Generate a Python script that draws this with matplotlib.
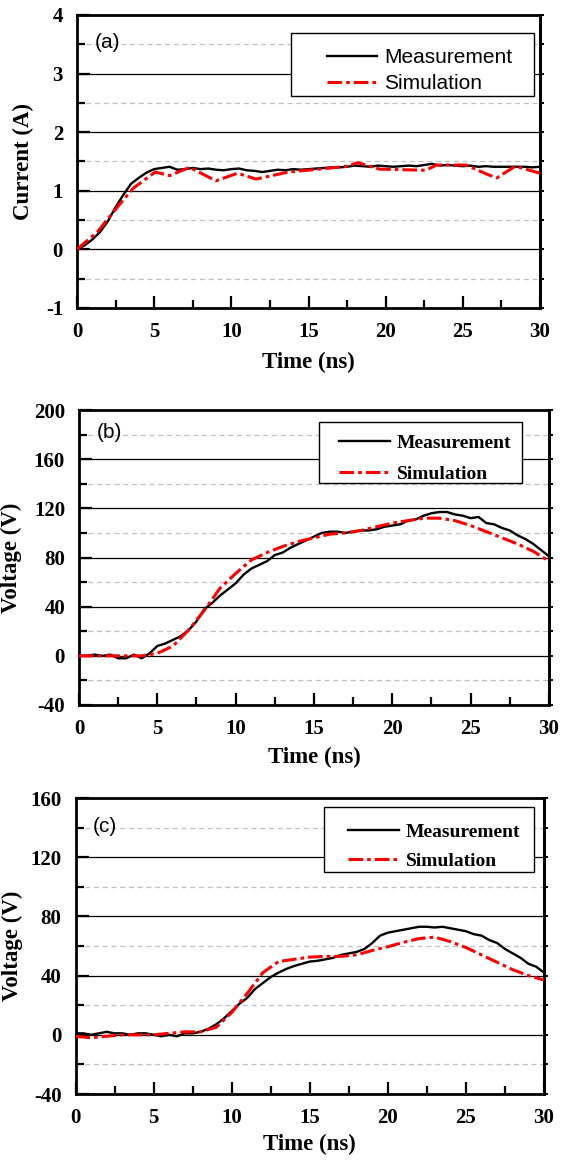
import matplotlib
matplotlib.use("Agg")
import matplotlib.pyplot as plt
from matplotlib.patches import Rectangle
from matplotlib.ticker import MultipleLocator
import numpy as np

plt.rcParams['font.family'] = 'serif'
plt.rcParams['font.serif'] = ['Liberation Serif', 'DejaVu Serif']
plt.rcParams['axes.unicode_minus'] = False

# ---- data ----
t_meas = np.arange(0, 30.01, 0.5)

cur_meas = [0.0, 0.07, 0.17, 0.3, 0.48, 0.72, 0.93, 1.12, 1.22, 1.31, 1.37, 1.39, 1.41,
            1.36, 1.37, 1.39, 1.37, 1.38, 1.36, 1.35, 1.37, 1.38, 1.35, 1.34, 1.32, 1.34,
            1.36, 1.35, 1.37, 1.36, 1.37, 1.38, 1.39, 1.40, 1.40, 1.41, 1.43, 1.42, 1.41,
            1.43, 1.42, 1.41, 1.42, 1.43, 1.42, 1.44, 1.46, 1.43, 1.44, 1.43, 1.42, 1.43,
            1.41, 1.42, 1.41, 1.41, 1.41, 1.41, 1.41, 1.40, 1.41]
t_cur_sim = [0, 1.33, 2.7, 3.67, 5.07, 6.0, 7.3, 9.0, 10.4, 11.6, 13.7, 16.1, 17.5, 18.2,
             19.6, 22.6, 23.3, 25.2, 26.6, 27.2, 28.4, 30]
cur_sim = [0, 0.3, 0.75, 1.05, 1.32, 1.26, 1.4, 1.17, 1.3, 1.2, 1.32, 1.38, 1.42, 1.48,
           1.37, 1.35, 1.44, 1.44, 1.28, 1.22, 1.42, 1.3]

vb_meas = [0, 0, 1, 0, 1, -2, -2, 1, -2, 2, 8, 10, 13, 16, 21, 28, 38, 43, 49, 54, 59,
           66, 71, 74, 77, 82, 84, 88, 91, 94, 97, 100, 101, 101, 100, 101, 102, 102, 103,
           105, 106, 107, 110, 111, 114, 116, 117, 117, 115, 114, 112, 113, 108, 107, 104,
           102, 98, 95, 91, 86, 81]
t_sim = np.arange(0, 31, 1)
vb_sim = [0, 0, 0, 0, 0, 2, 8, 21, 37, 55, 67, 78, 84, 89, 93, 96, 99, 100, 102, 105,
          108, 110, 112, 112, 110, 106, 101, 96, 91, 85, 77]

vc_meas = [1, 1, 0, 1, 2, 1, 1, 0, 1, 1, 0, -1, 0, -1, 1, 1, 2, 4, 7, 11, 16, 21, 25,
           31, 35, 39, 42, 44.5, 46.5, 48, 49.5, 50, 51, 52, 54, 55, 56, 58, 62, 67, 69,
           70, 71, 72, 73, 73, 72.5, 73, 72, 71, 70, 68, 67, 64, 62, 58, 55, 52, 48, 46, 42]
vc_sim = [-1, -2, -1, 0, 0, 0, 1, 2, 2, 5, 15, 28, 42, 49.5, 51, 52.5, 53, 53, 54, 57,
          59.5, 62.5, 65, 66, 63, 59, 54, 49, 44, 40, 37]

panel_tags = ['(a)', '(b)', '(c)']
y_labels = ['Current (A)', 'Voltage (V)', 'Voltage (V)']
y_limits = [(-1, 4), (-40, 200), (-40, 160)]
y_major = [1, 40, 40]
legend_labels = ['Measurement', 'Simulation']

# ---- layout in pixels (figure is 567 x 1161) ----
W, H = 567.0, 1161.0
axes_px = [(77, 540, 15, 308), (79, 549, 410, 705), (75.5, 544, 798, 1094)]
legend_px = [(291, 534, 33, 96), (319, 522, 422, 483), (324, 534, 807, 872)]
handle_px = [(327, 48), (339, 434), (348, 823)]
legend_spacing = [0.34, 0.71, 0.61]
tag_px = [(95, 42), (97, 432), (93, 826)]
ylab_x = [-0.093, -0.122, -0.111]
xlab_y = [-0.150, -0.142, -0.135]

series = [
    (t_meas, cur_meas, t_cur_sim, cur_sim),
    (t_meas, vb_meas, t_sim, vb_sim),
    (t_meas, vc_meas, t_sim, vc_sim),
]

fig = plt.figure(figsize=(W / 100, H / 100), dpi=100)
sans = {'family': 'Liberation Sans', 'size': 15}
bold_serif = {'family': 'Liberation Serif', 'size': 14, 'weight': 'bold'}

for i in range(3):
    x0, x1, y0, y1 = axes_px[i]
    ax = fig.add_axes([x0 / W, 1 - y1 / H, (x1 - x0) / W, (y1 - y0) / H])
    tm, ym, ts, ys = series[i]

    l1, = ax.plot(tm, ym, color='black', lw=1.7, zorder=3)
    l2, = ax.plot(ts, ys, color='red', lw=2.2, zorder=3, dashes=(4.8, 1.3, 1.2, 1.3))

    ax.set_xlim(0, 30)
    ax.set_ylim(*y_limits[i])
    ax.xaxis.set_major_locator(MultipleLocator(5))
    ax.xaxis.set_minor_locator(MultipleLocator(2.5))
    ax.yaxis.set_major_locator(MultipleLocator(y_major[i]))
    ax.yaxis.set_minor_locator(MultipleLocator(y_major[i] / 2))

    ax.grid(which='major', axis='y', color='black', lw=0.9, ls='-')
    ax.grid(which='minor', axis='y', color='#c0c0c0', lw=0.9, ls=(0, (4, 3)))

    ax.tick_params(which='major', direction='in', length=9, width=1.6, labelsize=15, pad=10)
    ax.tick_params(which='minor', direction='in', length=5.5, width=1.6)
    for lab in ax.get_xticklabels() + ax.get_yticklabels():
        lab.set_fontweight('bold')
    for sp in ax.spines.values():
        sp.set_linewidth(2.0)

    # small outward ticks on the right side
    sec = ax.secondary_yaxis('right')
    sec.yaxis.set_major_locator(MultipleLocator(y_major[i] / 2))
    sec.tick_params(direction='out', length=3, width=1.4, labelright=False)
    sec.spines['right'].set_linewidth(2.0)

    ax.set_ylabel(y_labels[i], fontsize=16.5, fontweight='bold')
    ax.yaxis.set_label_coords(ylab_x[i], 0.5)
    ax.set_xlabel('Time (ns)', fontsize=16.5, fontweight='bold')
    ax.xaxis.set_label_coords(0.5, xlab_y[i])

    tx, ty = tag_px[i]
    ax.text(tx / W, 1 - ty / H, panel_tags[i], transform=fig.transFigure,
            ha='left', va='center', fontdict=sans)

    # legend frame and entries
    lx0, lx1, ly0, ly1 = legend_px[i]
    ax.add_patch(Rectangle((lx0 / W, 1 - ly1 / H), (lx1 - lx0) / W, (ly1 - ly0) / H,
                           transform=fig.transFigure, facecolor='white',
                           edgecolor='black', lw=1.0, zorder=4, clip_on=False))
    hx, hy = handle_px[i]
    if i == 0:
        prop = sans
        hl, hp = 2.4, 0.34
    else:
        prop = bold_serif
        hl, hp = 2.6, 0.36
    leg = ax.legend([l1, l2], legend_labels, loc='upper left',
                    bbox_to_anchor=(hx / W, 1 - hy / H), bbox_transform=fig.transFigure,
                    frameon=False, borderpad=0, borderaxespad=0, handlelength=hl,
                    handletextpad=hp, labelspacing=legend_spacing[i], prop=prop)
    leg.set_zorder(5)

fig.savefig('out.png', dpi=100)
